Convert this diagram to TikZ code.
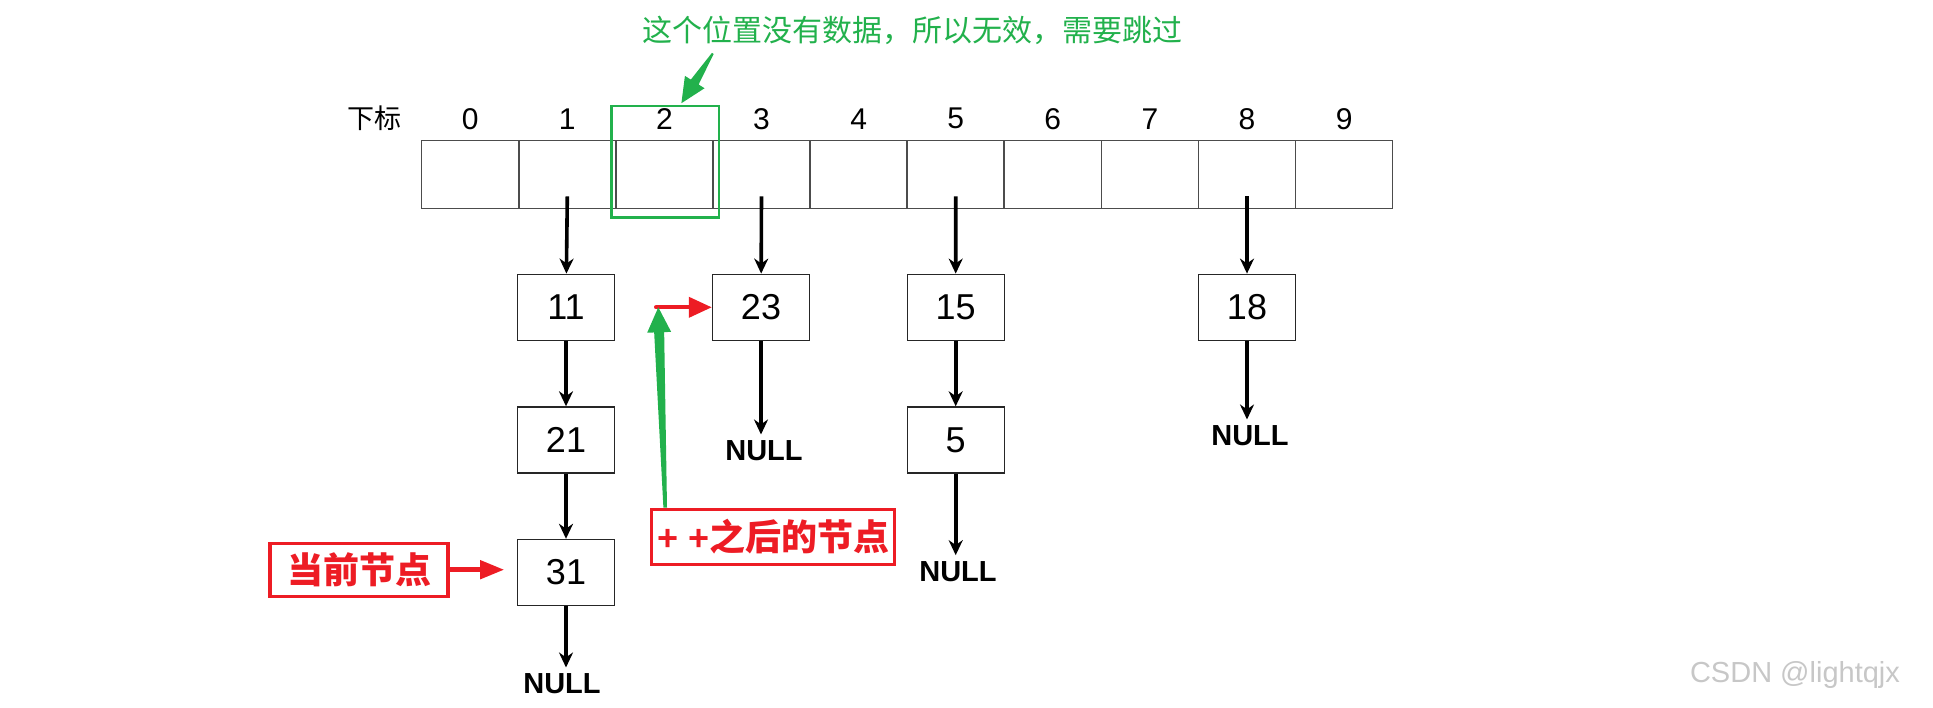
\documentclass[tikz,border=0pt]{standalone}
\usepackage{fontspec}
\setmainfont{Liberation Sans}
\newfontfamily\cjk{Noto Sans CJK SC}
\usepackage{tikz}
\usetikzlibrary{arrows.meta, positioning, calc}
\definecolor{hred}{RGB}{237,28,36}
\definecolor{hgreen}{RGB}{34,177,76}
% tapered arrow: colour, tail, tip, tail half-width, shaft half-width, head half-width, head length
\newcommand{\taperarrow}[7]{%
  \coordinate (tb) at ($(#3)!#7!(#2)$);
  \fill[#1] ($(#2)!#4!90:(#3)$) -- ($(tb)!#5!-90:(#2)$) -- ($(tb)!#6!-90:(#2)$) -- (#3)
     -- ($(tb)!#6!90:(#2)$) -- ($(tb)!#5!90:(#2)$) -- ($(#2)!#4!-90:(#3)$) -- cycle;
}

\begin{document}
\begin{tikzpicture}[x=0.5pt, y=-0.5pt, >={Stealth[length=7.5pt,width=7pt]},
  cell/.style={draw=black!70, line width=0.8pt, minimum width=48.55pt, minimum height=33.9pt, inner sep=0pt},
  idx/.style={font=\fontsize{15}{17}\selectfont, inner sep=0pt},
  lnode/.style={draw=black!85, line width=0.7pt, minimum width=48.5pt, minimum height=33pt, inner sep=0pt,
    font=\fontsize{18}{20}\selectfont},
  nullnode/.style={font=\bfseries\fontsize{14.5}{16}\selectfont, inner sep=3pt},
  ptr/.style={->, line width=1.8pt},
  redbox/.style={draw=hred, line width=1.6pt, text=hred, inner sep=0pt,
    font=\cjk\bfseries\fontsize{18}{20}\selectfont},
  redptr/.style={-{Triangle[length=12pt,width=9pt]}, hred, line width=2.3pt}]
  \useasboundingbox (0,0) rectangle (1933,707);
  % ---- hash table: index row and cells ----
  \node[font=\cjk\fontsize{13.5}{16}\selectfont, inner sep=0pt] (lbl) at (374.5,118) {下标};
  \foreach \i in {0,...,9}{
    \node[idx] (i\i) at (470.2+97.1*\i,118.7) {\i};
    \node[cell] (c\i) at (470.2+97.1*\i,174.4) {};
  }
  % ---- bucket lists ----
  \node[lnode] (n11) at (566,307.3) {11};
  \node[lnode] (n21) at (566,440) {21};
  \node[lnode] (n31) at (566,572.5) {31};
  \node[lnode] (n23) at (761,307.3) {23};
  \node[lnode] (n15) at (955.7,307.3) {15};
  \node[lnode] (n5) at (955.7,440) {5};
  \node[lnode] (n18) at (1247,307.3) {18};
  \node[nullnode] (nl1) at (562,684) {NULL};
  \node[nullnode] (nl3) at (764,451) {NULL};
  \node[nullnode] (nl5) at (958,571.7) {NULL};
  \node[nullnode] (nl8) at (1250,436) {NULL};
  \draw[ptr] ([yshift=-11pt]c1.center) -- (n11);
  \draw[ptr] ([yshift=-11pt]c3.center) -- (n23);
  \draw[ptr] ([yshift=-11pt]c5.center) -- (n15);
  \draw[ptr] ([yshift=-11pt]c8.center) -- (n18);
  \draw[ptr] (n11) -- (n21);
  \draw[ptr] (n21) -- (n31);
  \draw[ptr] (n31.south) -- (n31.south |- nl1.north);
  \draw[ptr] (n23.south) -- (n23.south |- nl3.north);
  \draw[ptr] (n15) -- (n5);
  \draw[ptr] (n5.south) -- (n5.south |- nl5.north);
  \draw[ptr] (n18.south) -- (n18.south |- nl8.north);
  % ---- empty slot 2 ----
  \node[draw=hgreen, line width=1.4pt, minimum width=53.6pt, minimum height=55.6pt, inner sep=0pt] (gbox) at (665.4,161.5) {};
  \node[text=hgreen, font=\cjk\fontsize{15}{18}\selectfont, inner sep=0pt] (gnote) at (912.7,30.5) {这个位置没有数据，所以无效，需要跳过};
  \coordinate (gt1) at (712.8,53.4);
  \coordinate (gp1) at (681.4,103.2);
  \taperarrow{hgreen}{gt1}{gp1}{0.5pt}{2.3pt}{5.8pt}{12.5pt}
  % ---- current node / node after ++ ----
  \node[redbox, minimum width=89pt, minimum height=26.5pt] (cur) at (359,569.7) {当前节点};
  \draw[redptr, shorten >=6.3pt] (cur.east) -- (cur.east -| n31.west);
  \node[redbox, minimum width=121.5pt, minimum height=27.5pt] (aft) at (773.3,536.7)
    {{\fontspec{Liberation Sans}\bfseries + +}之后的节点};
  \coordinate (rs) at (656,307.3);
  \draw[redptr, -{Triangle[length=11.5pt,width=10pt]}, line width=2pt, line cap=round] (rs) -- (n23);
  \coordinate (gt2) at ($(aft.north west)+(15,0)$);
  \coordinate (gp2) at ($(rs)+(2.3,0)$);
  \taperarrow{hgreen}{gt2}{gp2}{0.9pt}{2.5pt}{6pt}{12.5pt}
  % watermark
  \node[text=black!22, font=\fontsize{14.5}{16}\selectfont, inner sep=0pt] (wm) at (1795,675) {CSDN @lightqjx};
\end{tikzpicture}
\end{document}
